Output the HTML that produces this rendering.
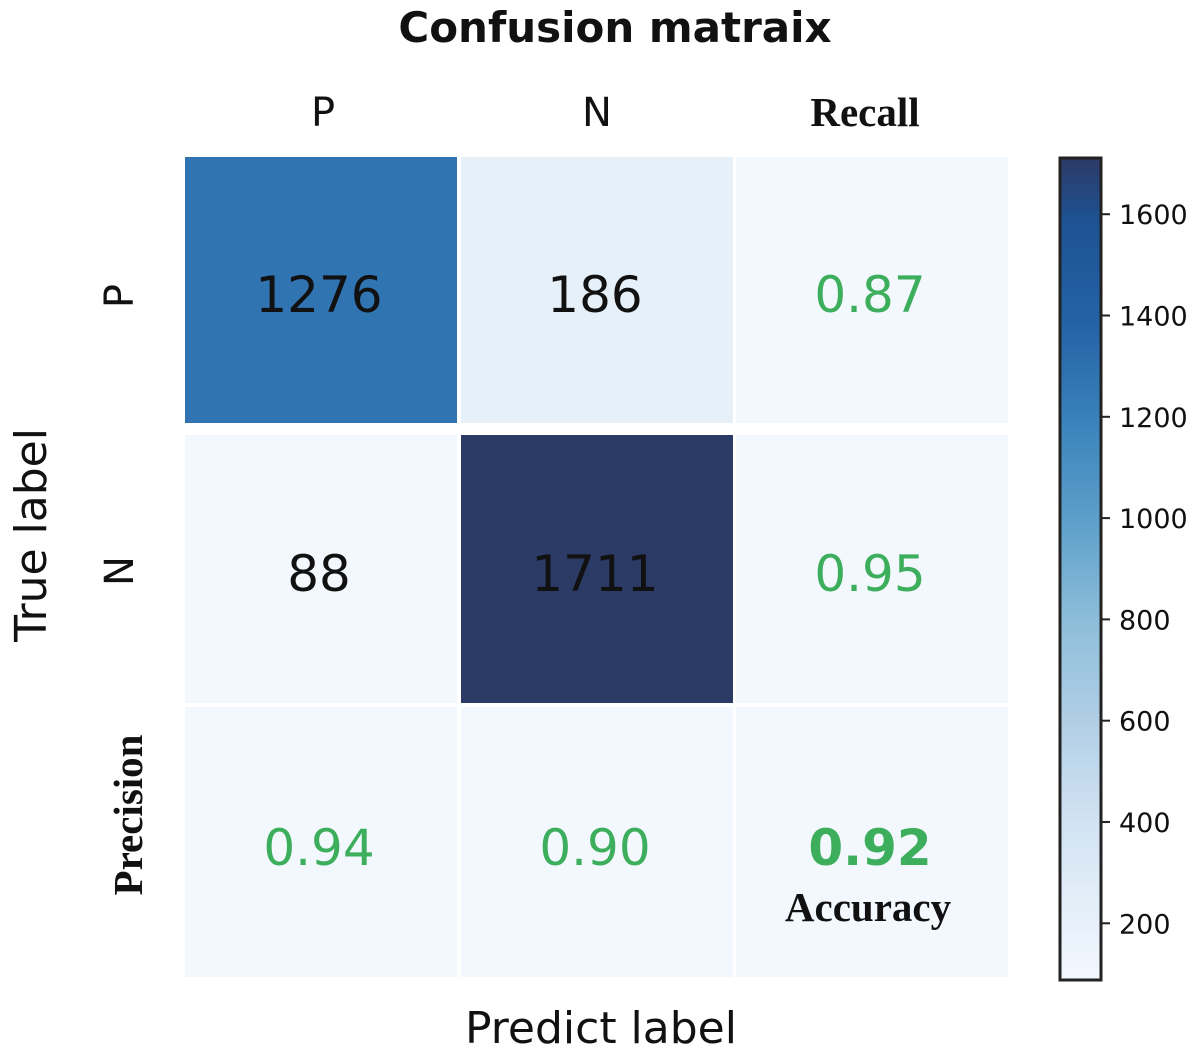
<!DOCTYPE html>
<html><head><meta charset="utf-8"><style>
html,body{margin:0;padding:0;background:#fff;}
svg{display:block;}
.sans{font-family:"DejaVu Sans","Liberation Sans",sans-serif;}
.serif{font-family:"Liberation Serif",serif;font-weight:bold;}
</style></head><body>
<svg id="chart" width="1200" height="1051" viewBox="0 0 1200 1051">
<defs>
<linearGradient id="cbgrad" x1="0" y1="1" x2="0" y2="0">
<stop offset="0" stop-color="#f3f8fe"/>
<stop offset="0.19" stop-color="#d2e3f3"/>
<stop offset="0.31" stop-color="#b2cfe6"/>
<stop offset="0.44" stop-color="#8cbdd9"/>
<stop offset="0.56" stop-color="#5c9fca"/>
<stop offset="0.68" stop-color="#3a82bb"/>
<stop offset="0.80" stop-color="#2462a6"/>
<stop offset="0.92" stop-color="#1d5394"/>
<stop offset="1" stop-color="#2c3a66"/>
</linearGradient>
</defs>
<text x="615" y="42" text-anchor="middle" class="sans" font-size="42" font-weight="bold" fill="#111">Confusion matraix</text>
<text x="323" y="126" text-anchor="middle" class="sans" font-size="40" fill="#111">P</text>
<text x="597" y="126" text-anchor="middle" class="sans" font-size="40" fill="#111">N</text>
<text x="865" y="126" text-anchor="middle" class="serif" font-size="41" fill="#111">Recall</text>
<text transform="translate(133,296) rotate(-90)" text-anchor="middle" class="sans" font-size="40" fill="#111">P</text>
<text transform="translate(133,571) rotate(-90)" text-anchor="middle" class="sans" font-size="40" fill="#111">N</text>
<text transform="translate(142,815) rotate(-90)" text-anchor="middle" class="serif" font-size="41" fill="#111">Precision</text>
<text transform="translate(46,535) rotate(-90)" text-anchor="middle" class="sans" font-size="44" fill="#111">True label</text>
<text x="601" y="1043" text-anchor="middle" class="sans" font-size="44" fill="#111">Predict label</text>
<g id="cells"></g>
<rect x="1060" y="158" width="41" height="822" fill="url(#cbgrad)" stroke="#222" stroke-width="3"/>
<g id="cbticks"></g>
<text x="868" y="921" text-anchor="middle" class="serif" font-size="41" fill="#111">Accuracy</text>
</svg>
<script>
const counts = [[1276, 186], [88, 1711]];
const recall = ["0.87", "0.95"];
const precision = ["0.94", "0.90"];
const accuracy = "0.92";
const cbTicks = [200, 400, 600, 800, 1000, 1200, 1400, 1600];
const vmin = 88, vmax = 1711;

const NS = "http://www.w3.org/2000/svg";
const colX = [185, 461, 736], colW = [272, 272, 272];
const rowY = [157, 435, 707], rowH = [266, 268, 270];
const cbTop = 158, cbBot = 980;
function cbY(v){ return cbBot - (v - vmin) / (vmax - vmin) * (cbBot - cbTop); }
const stops = [[0,[243,248,254]],[0.08,[226,237,248]],[0.19,[210,227,243]],[0.31,[178,207,230]],[0.44,[140,189,217]],[0.56,[92,159,202]],[0.68,[58,130,187]],[0.80,[36,98,166]],[0.92,[29,83,148]],[1,[44,58,102]]];
function color(v){
  let t = Math.max(0, Math.min(1, (v - vmin) / (vmax - vmin)));
  for (let i = 1; i < stops.length; i++) {
    if (t <= stops[i][0]) {
      const a = stops[i-1], b = stops[i], f = (t - a[0]) / (b[0] - a[0]);
      const c = a[1].map((x, k) => Math.round(x + (b[1][k] - x) * f));
      return "rgb(" + c.join(",") + ")";
    }
  }
  return "rgb(44,58,102)";
}
const cells = document.getElementById("cells");
function addCell(r, c, fill, label, txtColor, bold, name, dy){
  const rect = document.createElementNS(NS, "rect");
  rect.setAttribute("x", colX[c]); rect.setAttribute("y", rowY[r]);
  rect.setAttribute("width", colW[c]); rect.setAttribute("height", rowH[r]);
  rect.setAttribute("fill", fill);
  
  
  cells.appendChild(rect);
  const t = document.createElementNS(NS, "text");
  t.setAttribute("x", colX[c] + colW[c] / 2 - 2);
  t.setAttribute("y", rowY[r] + rowH[r] / 2 + dy);
  t.setAttribute("text-anchor", "middle");
  t.setAttribute("class", "sans");
  t.setAttribute("font-size", "50");
  t.setAttribute("fill", txtColor);
  if (bold) t.setAttribute("font-weight", "bold");
  t.textContent = label;
  
  
  cells.appendChild(t);
}
const green = "#3cae5c", low = color(vmin);
for (let r = 0; r < 2; r++) {
  for (let c = 0; c < 2; c++) {
    addCell(r, c, color(counts[r][c]), String(counts[r][c]), "#111", false, "count-r" + r + "-c" + c, 22);
  }
  addCell(r, 2, low, recall[r], green, false, "recall-r" + r, 22);
}
for (let c = 0; c < 2; c++) addCell(2, c, low, precision[c], green, false, "precision-c" + c, 23);
addCell(2, 2, low, accuracy, green, true, "accuracy", 23);
const tk = document.getElementById("cbticks");
cbTicks.forEach(v => {
  const y = cbY(v);
  const l = document.createElementNS(NS, "line");
  l.setAttribute("x1", 1102); l.setAttribute("x2", 1110);
  l.setAttribute("y1", y); l.setAttribute("y2", y);
  l.setAttribute("stroke", "#222"); l.setAttribute("stroke-width", "2");
  
  
  tk.appendChild(l);
  const t = document.createElementNS(NS, "text");
  t.setAttribute("x", 1119); t.setAttribute("y", y + 10);
  t.setAttribute("class", "sans"); t.setAttribute("font-size", "27"); t.setAttribute("fill", "#111");
  t.textContent = v;
  
  
  tk.appendChild(t);
});
</script>
</body></html>
